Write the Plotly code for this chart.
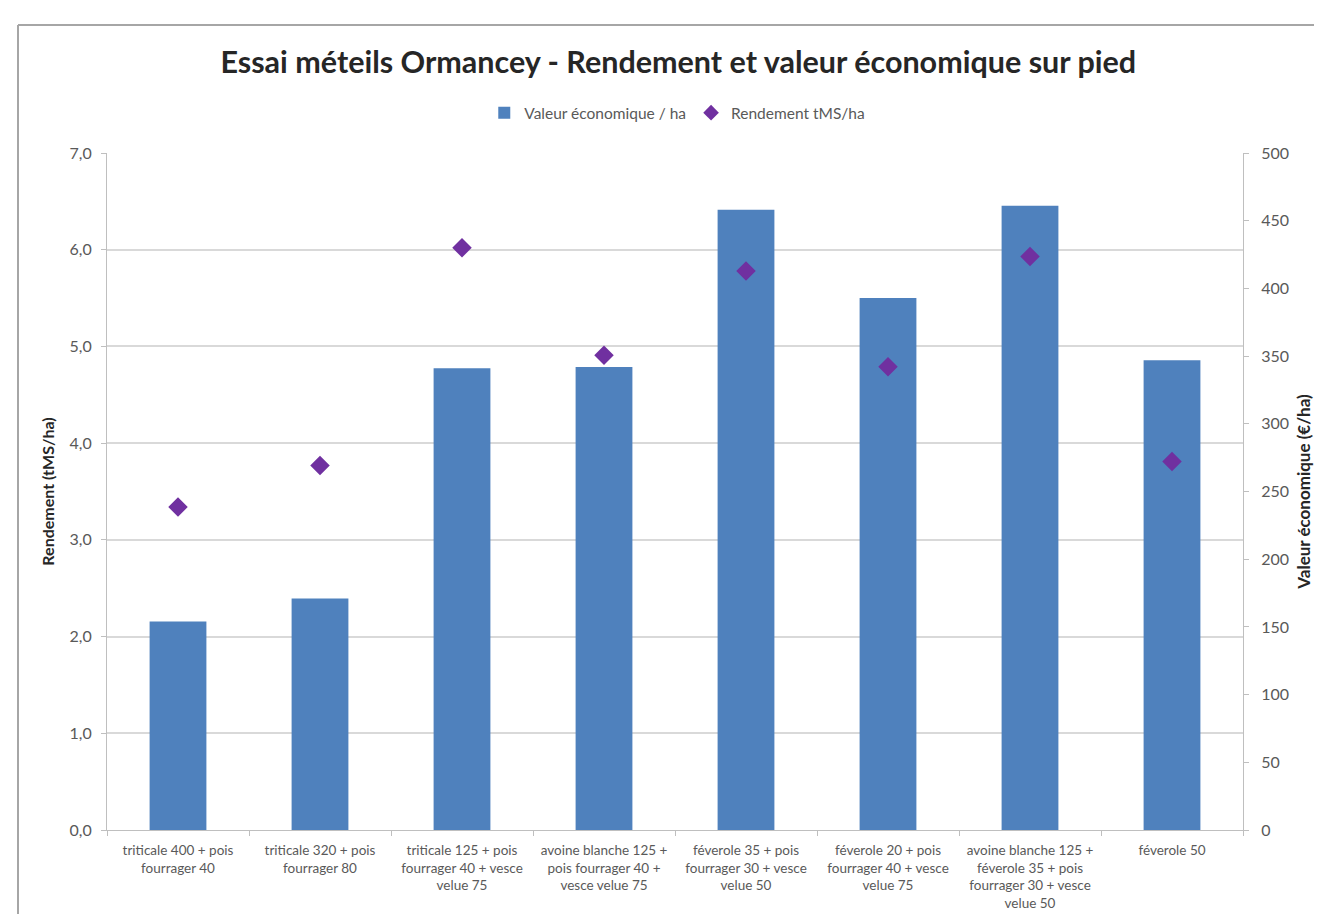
import plotly.graph_objects as go

categories = [
    "triticale 400 + pois<br>fourrager 40",
    "triticale 320 + pois<br>fourrager 80",
    "triticale 125 + pois<br>fourrager 40 + vesce<br>velue 75",
    "avoine blanche 125 +<br>pois fourrager 40 +<br>vesce velue 75",
    "féverole 35 + pois<br>fourrager 30 + vesce<br>velue 50",
    "féverole 20 + pois<br>fourrager 40 + vesce<br>velue 75",
    "avoine blanche 125 +<br>féverole 35 + pois<br>fourrager 30 + vesce<br>velue 50",
    "féverole 50",
]
valeur_eco = [154, 171, 341, 342, 458, 393, 461, 347]
rendement = [3.34, 3.77, 6.02, 4.91, 5.78, 4.79, 5.93, 3.81]

FONT = "Lato"
GRAY = "#595959"

fig = go.Figure()
fig.add_trace(go.Bar(
    x=categories, y=valeur_eco, name="Valeur économique / ha",
    marker=dict(color="#4F81BD", line=dict(width=0)),
    width=0.4, yaxis="y",
))
fig.add_trace(go.Scatter(
    x=categories, y=rendement, name="Rendement tMS/ha", mode="markers",
    marker=dict(symbol="diamond", size=15, color="#7030A0"),
    yaxis="y2",
))

fig.update_layout(
    width=1322, height=914,
    paper_bgcolor="white", plot_bgcolor="white",
    margin=dict(l=99, r=87, t=145, b=92),
    font=dict(family=FONT, color=GRAY, size=14),
    title=dict(
        text="<b>Essai méteils Ormancey - Rendement et valeur économique sur pied</b>",
        x=0.507, xanchor="center", y=1 - 54 / 914, yanchor="middle",
        font=dict(family=FONT, size=30.5, color="#262626"),
    ),
    showlegend=True,
    legend=dict(
        orientation="h", x=0.502, xanchor="center", y=1.059, yanchor="middle",
        font=dict(size=15.5, color=GRAY), bgcolor="rgba(0,0,0,0)",
        itemsizing="constant", itemwidth=30,
    ),
    xaxis=dict(
        type="category", showgrid=False, showline=True, linecolor="#bfbfbf",
        ticks="outside", tickson="boundaries", ticklen=5, tickcolor="#bfbfbf",
        tickfont=dict(size=13.5, color=GRAY), tickangle=0,
        ticklabelstandoff=8,
    ),
    yaxis=dict(
        side="right", range=[0, 500], dtick=50, showgrid=False,
        showline=True, linecolor="#bfbfbf", ticks="outside", ticklen=5,
        tickcolor="#bfbfbf", tickfont=dict(size=16, color=GRAY),
        ticklabelstandoff=9,
        title=dict(text="<b>Valeur économique (€/ha)</b>", font=dict(size=17, color="#262626"), standoff=10),
        zeroline=False,
    ),
    yaxis2=dict(
        side="left", overlaying="y", range=[0, 7], dtick=1, tickformat=".1f",
        showgrid=True, gridcolor="#d9d9d9", gridwidth=1.5,
        showline=True, linecolor="#bfbfbf", ticks="outside", ticklen=5,
        tickcolor="#bfbfbf", tickfont=dict(size=16, color=GRAY),
        ticklabelstandoff=6,
        title=dict(text="<b>Rendement (tMS/ha)</b>", font=dict(size=16, color="#262626"), standoff=10),
        zeroline=False,
    ),
    separators=",.",
)

# chart frame (Excel chart border)
fx = (18 - 107) / 1136
fy = (830 - 25) / 677
fig.add_shape(type="line", xref="paper", yref="paper",
              x0=fx, x1=1.2, y0=fy, y1=fy,
              line=dict(color="#a6a6a6", width=2))
fig.add_shape(type="line", xref="paper", yref="paper",
              x0=fx, x1=fx, y0=fy, y1=-0.2,
              line=dict(color="#a6a6a6", width=2))

fig.write_html("out.html")
